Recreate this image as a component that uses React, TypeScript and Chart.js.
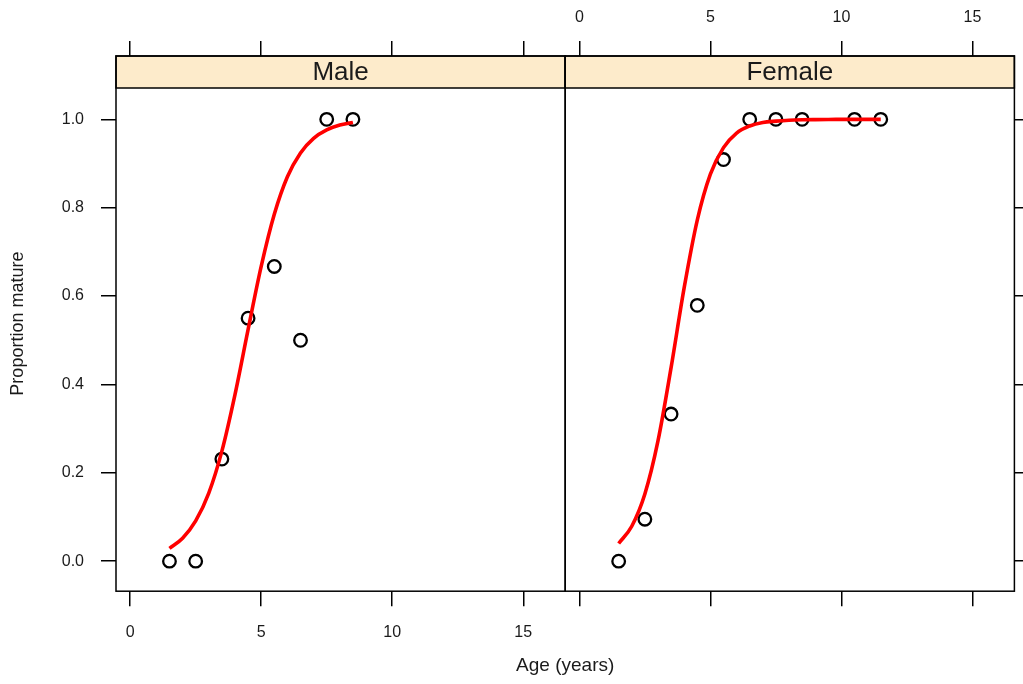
import React, { useEffect, useRef } from 'react';
import { Chart, registerables } from 'chart.js';

Chart.register(...registerables);

// ---- data ----
const panelNames = ['Male', 'Female'];
const xTickValues = [0, 5, 10, 15];
const yTickValues = [0, 0.2, 0.4, 0.6, 0.8, 1.0];

const maleAge = [1.5, 2.5, 3.5, 4.5, 5.5, 6.5, 7.5, 8.5];
const maleProp = [0, 0, 0.231, 0.55, 0.667, 0.5, 1, 1];

const femaleAge = [1.5, 2.5, 3.5, 4.5, 5.5, 6.5, 7.5, 8.5, 10.5, 11.5];
const femaleProp = [0, 0.095, 0.333, 0.579, 0.909, 1, 1, 1, 1, 1];

const maleCurveAge = [1.5, 2, 2.5, 3, 3.5, 4, 4.5, 5, 5.5, 6, 6.5, 7, 7.5, 8, 8.5];
const maleCurveProp = [0.029, 0.052, 0.091, 0.154, 0.249, 0.377, 0.524, 0.667, 0.785, 0.87, 0.924, 0.957, 0.976, 0.987, 0.993];

const femaleCurveAge = [1.5, 2, 2.5, 3, 3.5, 4, 4.5, 5, 5.5, 6, 6.5, 7, 7.5, 8, 8.5, 9, 9.5, 10, 10.5, 11, 11.5];
const femaleCurveProp = [0.04, 0.079, 0.152, 0.272, 0.438, 0.619, 0.772, 0.876, 0.936, 0.969, 0.985, 0.993, 0.996, 0.998, 0.999, 0.9995, 0.9998, 0.9999, 1, 1, 1];

// ---- axis ranges & styling ----
const X_MIN = -0.54;
const X_MAX = 16.6;
const Y_MIN = -0.068;
const Y_MAX = 1.1434;
const STRIP_H = 32;
const STRIP_BG = '#FDEBCB';
const FONT = '"Liberation Sans", Arial, Helvetica, sans-serif';
const TEXT = '#1a1a1a';

const pts = (xs: number[], ys: number[]) => xs.map((x, i) => ({ x, y: ys[i] }));

const stripPlugin = {
  id: 'latticeStrips',
  afterDatasetsDraw(chart: any) {
    const { ctx, chartArea, scales } = chart;
    const ids = ['xMale', 'xFemale'];
    ctx.save();
    ids.forEach((id, i) => {
      const s = scales[id];
      const x0 = s.left;
      const x1 = s.right;
      const y0 = chartArea.top;
      ctx.fillStyle = STRIP_BG;
      ctx.fillRect(x0, y0, x1 - x0, STRIP_H);
      ctx.strokeStyle = '#000';
      ctx.lineWidth = 1.5;
      ctx.strokeRect(x0, y0, x1 - x0, STRIP_H);
      ctx.fillStyle = TEXT;
      ctx.font = `26px ${FONT}`;
      ctx.textAlign = 'center';
      ctx.textBaseline = 'middle';
      ctx.fillText(panelNames[i], (x0 + x1) / 2, y0 + STRIP_H / 2 + 1);
      ctx.strokeRect(x0, y0, x1 - x0, chartArea.bottom - y0);
    });
    ctx.restore();
  },
};

const tickGrid = {
  display: true,
  drawOnChartArea: false,
  drawTicks: true,
  tickLength: 15,
  color: '#000',
  lineWidth: 1.5,
};

function xAxis(position: 'top' | 'bottom', showLabels: boolean) {
  return {
    type: 'linear',
    position,
    stack: position,
    stackWeight: 1,
    min: X_MIN,
    max: X_MAX,
    afterBuildTicks: (s: any) => {
      s.ticks = xTickValues.map((v) => ({ value: v }));
    },
    afterFit: (s: any) => {
      s.height = position === 'top' ? 56 : 55;
      s.paddingLeft = 0;
      s.paddingRight = 0;
    },
    grid: tickGrid,
    border: { display: false },
    ticks: {
      display: showLabels,
      padding: position === 'top' ? 14 : 17,
      maxRotation: 0,
      color: TEXT,
      font: { family: FONT, size: 16 },
    },
  };
}

export default function App() {
  const ref = useRef<HTMLCanvasElement>(null);

  useEffect(() => {
    if (!ref.current) return;
    const chart = new Chart(ref.current, {
      type: 'scatter',
      data: {
        datasets: [
          {
            data: pts(maleCurveAge, maleCurveProp),
            xAxisID: 'xMale',
            yAxisID: 'y',
            showLine: true,
            borderColor: '#ff0000',
            borderWidth: 3.6,
            pointRadius: 0,
            cubicInterpolationMode: 'monotone',
            fill: false,
          },
          {
            data: pts(femaleCurveAge, femaleCurveProp),
            xAxisID: 'xFemale',
            yAxisID: 'y',
            showLine: true,
            borderColor: '#ff0000',
            borderWidth: 3.6,
            pointRadius: 0,
            cubicInterpolationMode: 'monotone',
            fill: false,
          },
          {
            data: pts(maleAge, maleProp),
            xAxisID: 'xMale',
            yAxisID: 'y',
            pointRadius: 6.3,
            pointBorderWidth: 2.3,
            pointBorderColor: '#000',
            pointBackgroundColor: 'rgba(0,0,0,0)',
          },
          {
            data: pts(femaleAge, femaleProp),
            xAxisID: 'xFemale',
            yAxisID: 'y',
            pointRadius: 6.3,
            pointBorderWidth: 2.3,
            pointBorderColor: '#000',
            pointBackgroundColor: 'rgba(0,0,0,0)',
          },
        ],
      } as any,
      options: {
        responsive: false,
        animation: false,
        devicePixelRatio: 1,
        layout: { padding: 0 },
        plugins: {
          legend: { display: false },
          tooltip: { enabled: false },
          title: {
            display: true,
            text: 'Age (years)',
            position: 'bottom',
            fullSize: false,
            color: TEXT,
            font: { family: FONT, size: 19, weight: 'normal' },
            padding: { top: 8, bottom: 7 },
          },
        },
        scales: {
          xMale: xAxis('bottom', true),
          xFemale: xAxis('bottom', false),
          xFemaleTop: xAxis('top', true),
          xMaleTop: xAxis('top', false),
          y: {
            type: 'linear',
            position: 'left',
            min: Y_MIN,
            max: Y_MAX,
            afterBuildTicks: (s: any) => {
              s.ticks = yTickValues.map((v) => ({ value: v }));
            },
            afterFit: (s: any) => {
              s.width = 116;
              s.paddingTop = 0;
              s.paddingBottom = 0;
            },
            grid: tickGrid,
            border: { display: false },
            title: {
              display: true,
              text: 'Proportion mature',
              color: TEXT,
              font: { family: FONT, size: 18 },
              padding: { top: 7, bottom: 0 },
            },
            ticks: {
              padding: 17,
              color: TEXT,
              font: { family: FONT, size: 16 },
              callback: (v: any) => Number(v).toFixed(1),
            },
          },
          y2: {
            type: 'linear',
            position: 'right',
            min: Y_MIN,
            max: Y_MAX,
            afterBuildTicks: (s: any) => {
              s.ticks = yTickValues.map((v) => ({ value: v }));
            },
            afterFit: (s: any) => {
              s.width = 6;
              s.paddingTop = 0;
              s.paddingBottom = 0;
            },
            grid: tickGrid,
            border: { display: false },
            ticks: { display: false },
          },
        },
      } as any,
      plugins: [stripPlugin],
    });
    return () => chart.destroy();
  }, []);

  return (
    <div style={{ position: 'fixed', left: 0, top: 0, width: 1023, height: 684, background: '#fff' }}>
      <canvas ref={ref} width={1023} height={684} style={{ display: 'block' }} />
    </div>
  );
}
